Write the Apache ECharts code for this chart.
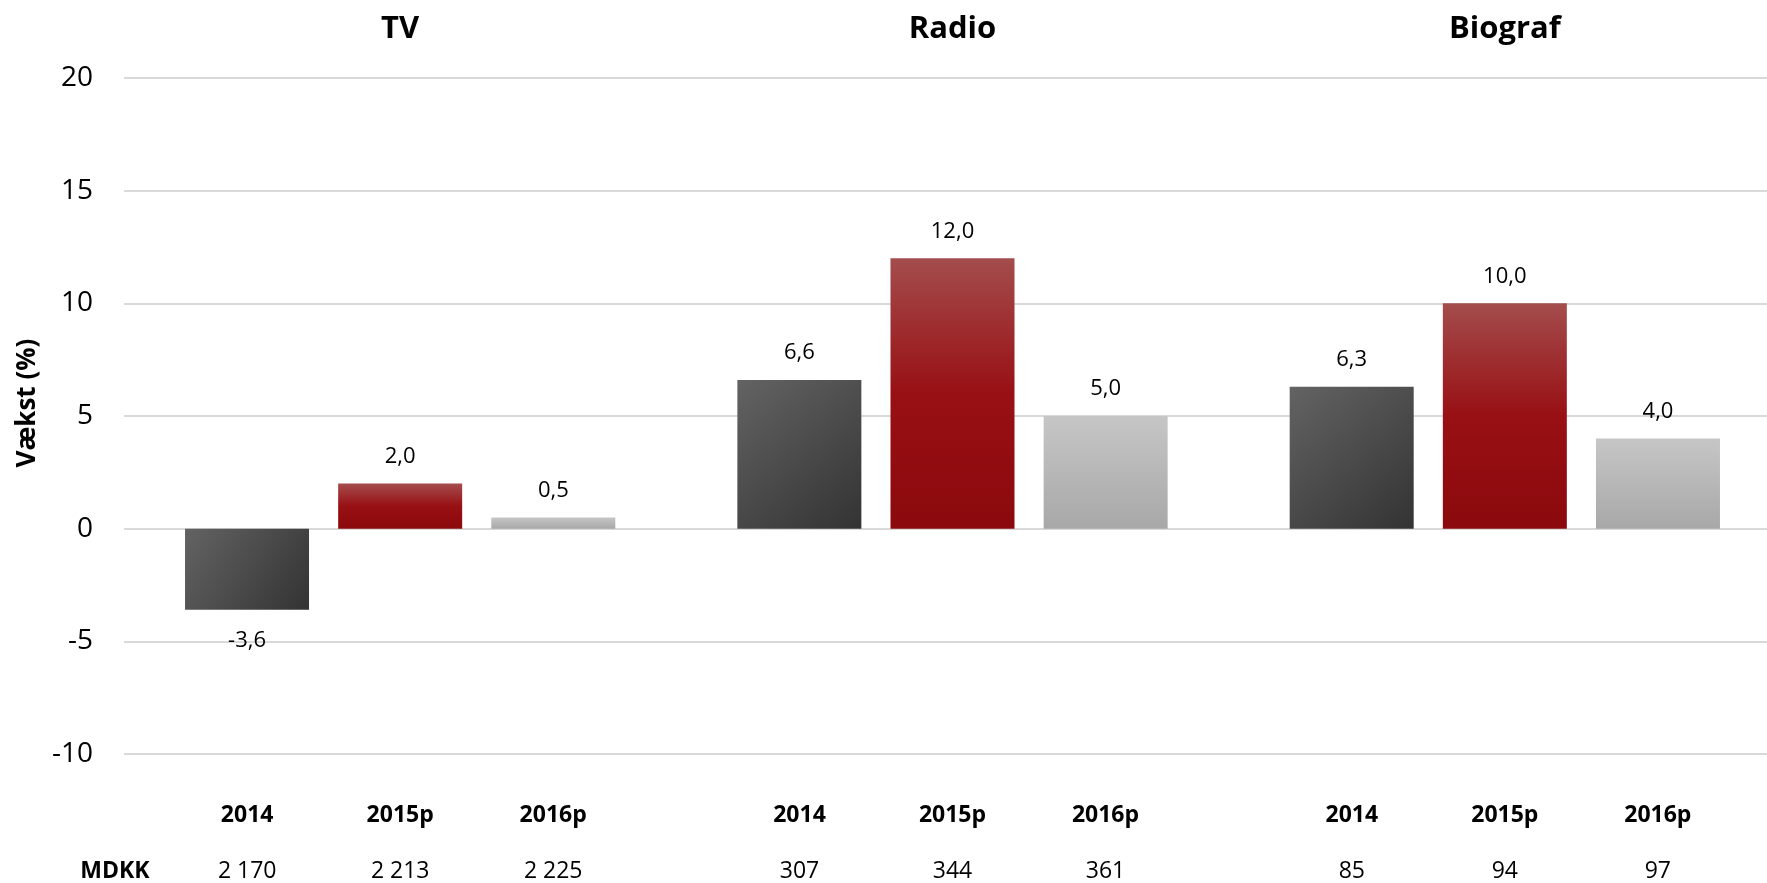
<!DOCTYPE html>
<html>
<head>
<meta charset="utf-8">
<script src="https://cdn.jsdelivr.net/npm/echarts@6/dist/echarts.min.js"></script>
<style>
html,body{margin:0;padding:0;background:#fff;}
#chart{width:1767px;height:883px;}
</style>
</head>
<body>
<div id="chart"></div>
<script>
const categories = ['TV', 'Radio', 'Biograf'];
const years = ['2014', '2015p', '2016p'];
const growth2014 = [-3.6, 6.6, 6.3];
const growth2015p = [2.0, 12.0, 10.0];
const growth2016p = [0.5, 5.0, 4.0];
const mdkkTV = ['2 170', '2 213', '2 225'];
const mdkkRadio = ['307', '344', '361'];
const mdkkBiograf = ['85', '94', '97'];
const mdkkLabel = 'MDKK';
const yAxisName = 'Vækst (%)';
const yMin = -10, yMax = 20, yStep = 5;

const mdkkByCat = [mdkkTV, mdkkRadio, mdkkBiograf];
const FONT = 'Open Sans';

function fmt(v) { return v.toFixed(1).replace('.', ','); }
function items(arr) {
  return arr.map(v => ({
    value: v,
    label: { position: v < 0 ? 'bottom' : 'top', distance: v < 0 ? 20 : 16 }
  }));
}

const colDark = new echarts.graphic.LinearGradient(0, 0, 1, 1, [
  { offset: 0, color: '#636363' }, { offset: 1, color: '#333333' }
]);
const colRed = new echarts.graphic.LinearGradient(0, 0, 0, 1, [
  { offset: 0, color: '#a44c4c' }, { offset: 0.5, color: '#981014' }, { offset: 1, color: '#8b090c' }
]);
const colLight = new echarts.graphic.LinearGradient(0, 0, 0, 1, [
  { offset: 0, color: '#c6c6c6' }, { offset: 1, color: '#a8a8a8' }
]);

const barLabel = {
  show: true,
  color: '#000',
  fontFamily: FONT,
  fontSize: 22,
  formatter: p => fmt(p.value)
};

function makeSeries(name, data, color) {
  return {
    name: name,
    type: 'bar',
    xAxisIndex: 0,
    barWidth: 124,
    barGap: '23.5%',
    data: items(data),
    itemStyle: { color: color },
    label: barLabel,
    emphasis: { disabled: true }
  };
}

const chart = echarts.init(document.getElementById('chart'), null, { renderer: 'canvas' });
chart.setOption({
  animation: false,
  backgroundColor: '#fff',
  textStyle: { fontFamily: FONT },
  grid: { left: 124, top: 78, width: 1657, bottom: 129, containLabel: false, outerBoundsMode: 'none' },
  xAxis: [{
    type: 'category',
    data: categories,
    position: 'bottom',
    axisLine: { show: false },
    axisTick: { show: false },
    axisLabel: {
      interval: 0,
      margin: 33,
      formatter: (value, idx) => {
        const i = categories.indexOf(value);
        const m = mdkkByCat[i];
        return years.map(y => '{y|' + y + '}').join('') + '\n' + m.map(v => '{n|' + v + '}').join('');
      },
      rich: {
        y: { width: 153, align: 'center', fontWeight: 'bold', fontSize: 23, lineHeight: 56, color: '#000', fontFamily: FONT },
        n: { width: 153, align: 'center', fontSize: 23, lineHeight: 56, color: '#000', fontFamily: FONT }
      }
    }
  }, {
    type: 'category',
    data: categories,
    position: 'top',
    axisLine: { show: false },
    axisTick: { show: false },
    axisLabel: { interval: 0, margin: 33, fontWeight: 'bold', fontSize: 31, color: '#000', fontFamily: FONT }
  }],
  yAxis: {
    type: 'value',
    min: yMin,
    max: yMax,
    interval: yStep,
    name: yAxisName,
    nameLocation: 'middle',
    nameGap: 82,
    nameTextStyle: { fontWeight: 'bold', fontSize: 26, color: '#000', fontFamily: FONT, padding: [0, 0, 0, 26] },
    axisLine: { show: false },
    axisTick: { show: false },
    axisLabel: { margin: 31, fontSize: 28, color: '#000', fontFamily: FONT },
    splitLine: { lineStyle: { color: '#d9d9d9', width: 2 } }
  },
  graphic: [{
    type: 'text',
    x: 115,
    y: 871,
    style: { text: mdkkLabel, font: 'bold 23px "Open Sans"', fill: '#000', align: 'center', verticalAlign: 'middle' }
  }],
  series: [
    makeSeries(years[0], growth2014, colDark),
    makeSeries(years[1], growth2015p, colRed),
    makeSeries(years[2], growth2016p, colLight)
  ]
});
</script>
</body>
</html>
